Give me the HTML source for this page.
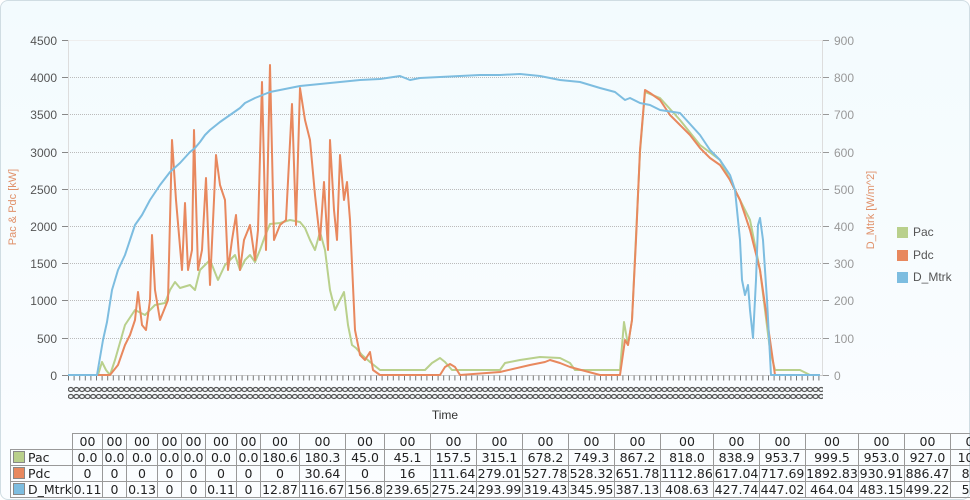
<!DOCTYPE html>
<html><head><meta charset="utf-8"><style>
body{margin:0;width:970px;height:500px;overflow:hidden;background:#fff;font-family:"Liberation Sans",sans-serif;}
#frame{position:absolute;left:0;top:0;width:968px;height:498px;border:1px solid #d0dde3;border-radius:8px;background:linear-gradient(#f3fbfe,#fbfdff);}
table{position:absolute;left:10px;top:433px;border-collapse:collapse;font-size:12.5px;font-family:"DejaVu Sans",sans-serif;color:#222;table-layout:fixed;width:986px;}
td{border:1px solid #999;height:15px;padding:0;text-align:center;white-space:nowrap;overflow:hidden;line-height:15px;}
td.l{text-align:left;padding-left:2px;}
.sw{display:inline-block;width:10px;height:10px;border:1px solid #888;vertical-align:-1px;margin-right:3px;}
</style></head><body>
<div id="frame"></div>
<svg width="970" height="430" style="position:absolute;left:0;top:0" font-family="Liberation Sans, sans-serif">
<defs>
<pattern id="lab" x="68" y="386" width="5.6" height="7" patternUnits="userSpaceOnUse">
<ellipse cx="2.8" cy="3.5" rx="2.4" ry="2" fill="none" stroke="#555" stroke-width="1.2"/>
</pattern>
</defs>
<g stroke="#bbb" stroke-dasharray="1,1" stroke-width="1">
<line x1="68" x2="823" y1="40.5" y2="40.5" stroke="#eee" stroke-dasharray="none"/>
<line x1="68" x2="823" y1="77.5" y2="77.5"/>
<line x1="68" x2="823" y1="114.5" y2="114.5"/>
<line x1="68" x2="823" y1="152.5" y2="152.5"/>
<line x1="68" x2="823" y1="189.5" y2="189.5"/>
<line x1="68" x2="823" y1="226.5" y2="226.5"/>
<line x1="68" x2="823" y1="263.5" y2="263.5"/>
<line x1="68" x2="823" y1="300.5" y2="300.5"/>
<line x1="68" x2="823" y1="338.5" y2="338.5"/>
</g>
<line x1="68.5" x2="68.5" y1="40" y2="375" stroke="#ddd"/>
<line x1="822.5" x2="822.5" y1="40" y2="375" stroke="#ddd"/>
<line x1="68" x2="823" y1="375.5" y2="375.5" stroke="#ccc"/>
<g font-size="12" fill="#555" text-anchor="end">
<text x="57" y="45">4500</text><text x="57" y="82">4000</text><text x="57" y="119">3500</text><text x="57" y="157">3000</text><text x="57" y="194">2500</text><text x="57" y="231">2000</text><text x="57" y="268">1500</text><text x="57" y="305">1000</text><text x="57" y="343">500</text><text x="57" y="380">0</text>
</g>
<g font-size="12" fill="#999">
<text x="834" y="45">900</text><text x="834" y="82">800</text><text x="834" y="119">700</text><text x="834" y="157">600</text><text x="834" y="194">500</text><text x="834" y="231">400</text><text x="834" y="268">300</text><text x="834" y="305">200</text><text x="834" y="343">100</text><text x="834" y="380">0</text>
</g>
<g stroke="#999"><line x1="823" x2="829" y1="40.5" y2="40.5"/><line x1="823" x2="829" y1="77.5" y2="77.5"/><line x1="823" x2="829" y1="114.5" y2="114.5"/><line x1="823" x2="829" y1="152.5" y2="152.5"/><line x1="823" x2="829" y1="189.5" y2="189.5"/><line x1="823" x2="829" y1="226.5" y2="226.5"/><line x1="823" x2="829" y1="263.5" y2="263.5"/><line x1="823" x2="829" y1="300.5" y2="300.5"/><line x1="823" x2="829" y1="338.5" y2="338.5"/><line x1="823" x2="829" y1="375.5" y2="375.5"/></g>
<g stroke="#888"><line x1="62" x2="68" y1="40.5" y2="40.5"/><line x1="62" x2="68" y1="77.5" y2="77.5"/><line x1="62" x2="68" y1="114.5" y2="114.5"/><line x1="62" x2="68" y1="152.5" y2="152.5"/><line x1="62" x2="68" y1="189.5" y2="189.5"/><line x1="62" x2="68" y1="226.5" y2="226.5"/><line x1="62" x2="68" y1="263.5" y2="263.5"/><line x1="62" x2="68" y1="300.5" y2="300.5"/><line x1="62" x2="68" y1="338.5" y2="338.5"/><line x1="62" x2="68" y1="375.5" y2="375.5"/></g>
<line x1="68" x2="823" y1="378" y2="378" stroke="#777" stroke-width="5" stroke-dasharray="1,4.6"/>
<rect x="68" y="386" width="755" height="14" fill="url(#lab)"/>
<text x="16" y="207" font-size="11" fill="#e0916a" text-anchor="middle" transform="rotate(-90 16 207)">Pac &amp; Pdc [kW]</text>
<text x="874" y="210" font-size="11" fill="#e0916a" text-anchor="middle" transform="rotate(-90 874 210)">D_Mtrk [W/m^2]</text>
<text x="445" y="419" font-size="12" fill="#333" text-anchor="middle">Time</text>
<g fill="none" stroke-width="2" stroke-linejoin="round">
<polyline stroke="#b9d08c" points="68,375 98,375 102,362 106,370 110,375 115,360 125,325 135,310 145,315 155,305 165,303 170,290 175,282 180,288 190,285 195,290 200,270 210,260 218,280 225,265 235,255 240,270 245,260 250,255 255,262 260,250 265,236 270,224 280,223 290,220 300,222 305,228 310,240 315,250 320,232 325,250 330,290 335,310 340,300 344,292 348,325 352,345 356,348 362,355 370,362 380,370 400,370 425,370 432,363 440,358 445,362 452,370 500,370 505,363 520,360 540,357 560,358 570,363 575,370 620,370 624,322 628,345 632,320 640,152 645,92 660,98 680,120 700,145 720,160 740,200 750,220 760,270 770,350 775,370 800,370 810,375"/>
<polyline stroke="#e8885e" points="68,375 110,375 118,365 125,345 130,335 135,320 138,292 142,325 146,330 150,300 152,235 155,290 160,320 168,300 172,140 176,200 182,270 185,203 188,270 192,250 194,130 198,270 202,250 206,178 210,285 214,200 216,155 220,185 225,200 228,270 232,240 236,215 240,270 244,240 250,225 255,260 258,230 262,82 266,250 270,65 274,240 280,225 286,220 292,104 296,225 300,88 305,120 310,140 315,195 320,240 324,182 328,250 330,140 334,210 337,240 340,155 344,200 347,182 350,220 355,330 360,355 365,360 370,352 373,370 380,375 440,375 445,367 450,364 455,367 460,375 500,372 530,365 545,362 550,360 560,363 570,367 600,375 620,375 625,340 628,345 632,320 636,240 640,150 645,90 650,93 660,100 670,115 680,125 690,135 700,148 710,158 720,165 730,180 740,200 750,230 760,270 770,340 775,375 820,375"/>
<polyline stroke="#7dbde0" points="68,375 97,375 103,340 107,322 112,290 118,270 125,255 130,240 135,225 142,215 150,200 160,185 170,172 180,163 190,152 195,148 200,142 205,135 210,130 220,122 230,115 240,108 245,103 255,98 270,92 280,90 290,88 300,86 320,84 340,82 360,80 380,79 400,76 410,80 420,78 440,77 460,76 480,75 500,75 520,74 540,76 560,80 580,82 600,88 615,92 625,100 630,98 640,103 650,105 660,110 680,113 700,135 710,150 720,160 730,175 735,190 740,240 742,280 745,295 748,285 750,310 753,338 756,280 758,225 760,218 763,240 767,300 771,375 820,375"/>
</g>
<rect x="897" y="227" width="11" height="11" fill="#b9d08c"/><text x="913" y="236" font-size="12" fill="#555">Pac</text>
<rect x="897" y="250" width="11" height="11" fill="#e8885e"/><text x="913" y="259" font-size="12" fill="#555">Pdc</text>
<rect x="897" y="272" width="11" height="11" fill="#7dbde0"/><text x="913" y="281" font-size="12" fill="#555">D_Mtrk</text>
</svg>
<table>
<colgroup><col style="width:62px"><col style="width:30px"><col style="width:24px"><col style="width:31px"><col style="width:24px"><col style="width:24px"><col style="width:31px"><col style="width:24px"><col style="width:39px"><col style="width:46px"><col style="width:39px"><col style="width:46px"><col style="width:46px"><col style="width:46px"><col style="width:46px"><col style="width:46px"><col style="width:46px"><col style="width:53px"><col style="width:46px"><col style="width:46px"><col style="width:53px"><col style="width:46px"><col style="width:46px"><col style="width:46px"></colgroup>
<tr><td style="border:none"></td><td>00</td><td>00</td><td>00</td><td>00</td><td>00</td><td>00</td><td>00</td><td>00</td><td>00</td><td>00</td><td>00</td><td>00</td><td>00</td><td>00</td><td>00</td><td>00</td><td>00</td><td>00</td><td>00</td><td>00</td><td>00</td><td>00</td><td>00</td></tr>
<tr><td class="l"><span class="sw" style="background:#b9d08c"></span>Pac</td><td>0.0</td><td>0.0</td><td>0.0</td><td>0.0</td><td>0.0</td><td>0.0</td><td>0.0</td><td>180.6</td><td>180.3</td><td>45.0</td><td>45.1</td><td>157.5</td><td>315.1</td><td>678.2</td><td>749.3</td><td>867.2</td><td>818.0</td><td>838.9</td><td>953.7</td><td>999.5</td><td>953.0</td><td>927.0</td><td>1065</td></tr>
<tr><td class="l"><span class="sw" style="background:#e8885e"></span>Pdc</td><td>0</td><td>0</td><td>0</td><td>0</td><td>0</td><td>0</td><td>0</td><td>0</td><td>30.64</td><td>0</td><td>16</td><td>111.64</td><td>279.01</td><td>527.78</td><td>528.32</td><td>651.78</td><td>1112.86</td><td>617.04</td><td>717.69</td><td>1892.83</td><td>930.91</td><td>886.47</td><td>835</td></tr>
<tr><td class="l"><span class="sw" style="background:#7dbde0"></span>D_Mtrk</td><td>0.11</td><td>0</td><td>0.13</td><td>0</td><td>0</td><td>0.11</td><td>0</td><td>12.87</td><td>116.67</td><td>156.8</td><td>239.65</td><td>275.24</td><td>293.99</td><td>319.43</td><td>345.95</td><td>387.13</td><td>408.63</td><td>427.74</td><td>447.02</td><td>464.04</td><td>483.15</td><td>499.22</td><td>516</td></tr>
</table>
</body></html>
